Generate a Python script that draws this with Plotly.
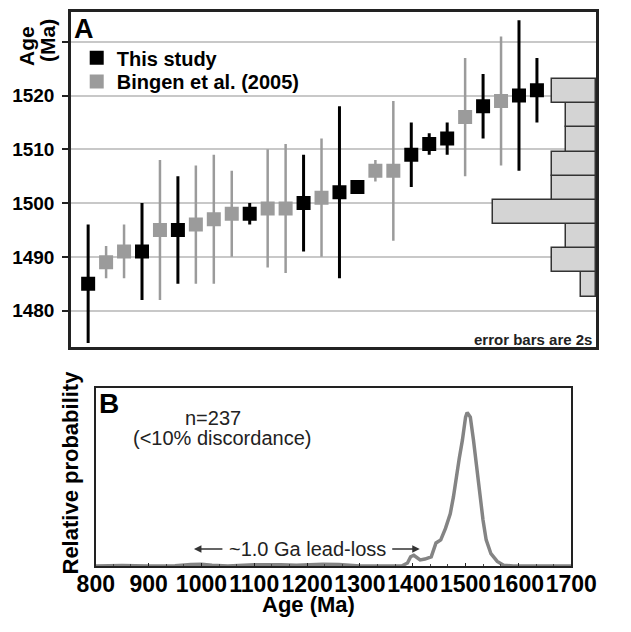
import plotly.graph_objects as go

# ---------------- data ----------------
# Panel A: weighted-mean ages (Ma) with 2s errors, ordered by age
study_idx = [1, 4, 6, 10, 13, 15, 16, 19, 20, 21, 23, 25, 26]
study_age = [1485, 1491, 1495, 1498, 1500, 1502, 1503, 1509, 1511, 1512, 1518, 1520, 1521]
study_err = [11, 9, 10, 2, 9, 16, 0, 6, 2, 3, 6, 14, 6]

bingen_idx = [2, 3, 5, 7, 8, 9, 11, 12, 14, 17, 18, 22, 24]
bingen_age = [1489, 1491, 1495, 1496, 1497, 1498, 1499, 1499, 1501, 1506, 1506, 1516, 1519]
bingen_err = [3, 5, 13, 11, 12, 8, 11, 12, 11, 2, 13, 11, 12]

# Histogram of ages (side bars)
hist_center = [1484.85, 1489.35, 1493.85, 1498.35, 1502.85, 1507.35, 1511.85, 1516.35, 1520.85]
hist_count = [1, 3, 2, 7, 3, 3, 2, 2, 3]
hist_binwidth = 4.5

y_ticks = [1480, 1490, 1500, 1510, 1520, 1530]
y_ticktext = ["1480", "1490", "1500", "1510", "1520", ""]

# Panel B: relative probability curve
pdf_age = [800, 850, 900, 950, 980, 1000, 1020, 1050, 1100, 1120, 1150, 1180, 1200, 1230,
           1260, 1280, 1300, 1350, 1380, 1390, 1396, 1402, 1408, 1414, 1423, 1435, 1444,
           1453, 1462, 1471, 1477, 1482, 1488, 1494, 1500, 1503, 1509, 1515, 1521, 1527,
           1533, 1539, 1548, 1560, 1572, 1590, 1650, 1700]
pdf_prob = [0.0, 0.003, 0.0, 0.002, 0.01, 0.012, 0.005, 0.0, 0.008, 0.01, 0.008, 0.005, 0.01,
            0.012, 0.01, 0.005, 0.0, 0.0, 0.002, 0.02, 0.06, 0.07, 0.055, 0.04, 0.045, 0.06,
            0.15, 0.17, 0.245, 0.34, 0.45, 0.58, 0.70, 0.82, 0.97, 1.0, 0.97, 0.82, 0.645,
            0.47, 0.30, 0.17, 0.08, 0.03, 0.005, 0.0, 0.0, 0.0]
x_ticks_b = [800, 900, 1000, 1100, 1200, 1300, 1400, 1500, 1600, 1700]

# ---------------- layout helpers ----------------
# The page body has an 8 px margin on every side; the figure is sized so the
# page is exactly 631 x 632 (no overflow). Figure pixel = page pixel - 8.
OFF = 8
W, H = 631 - 2 * OFF, 632 - 2 * OFF
ML, MR, MT, MB = 63, 1, 1, 58
PW = W - ML - MR
PH = H - MT - MB


def px(xp):
    """page x pixel -> paper x"""
    return (xp - OFF - ML) / PW


def py(yp):
    """page y pixel -> paper y"""
    return (H - MB - (yp - OFF)) / PH


FONT = "Liberation Sans, Arial, sans-serif"
DARK = "#222222"
GRAY = "#9b9b9b"

fig = go.Figure()

fig.add_trace(go.Bar(
    x=hist_count, y=hist_center, width=hist_binwidth, orientation="h",
    xaxis="x3", yaxis="y", showlegend=False,
    marker=dict(color="#d4d4d4", line=dict(color="#333333", width=1.5)),
))

fig.add_trace(go.Scatter(
    x=study_idx, y=study_age, mode="markers", name="This study",
    xaxis="x", yaxis="y", legend="legend",
    marker=dict(symbol="square", size=14, color="black"),
    error_y=dict(type="data", array=study_err, color="black", thickness=3, width=0),
))

fig.add_trace(go.Scatter(
    x=bingen_idx, y=bingen_age, mode="markers", name="Bingen et al. (2005)",
    xaxis="x", yaxis="y", legend="legend2",
    marker=dict(symbol="square", size=14, color=GRAY),
    error_y=dict(type="data", array=bingen_err, color=GRAY, thickness=2.5, width=0),
))

fig.add_trace(go.Scatter(
    x=pdf_age, y=pdf_prob, mode="lines", showlegend=False,
    xaxis="x2", yaxis="y2",
    line=dict(color="#848484", width=3.5),
))

annotations = [
    dict(text="<b>A</b>", x=px(72), y=py(26), xanchor="left", yanchor="middle",
         font=dict(size=27, color="black")),
    dict(text="<b>B</b>", x=px(98), y=py(403), xanchor="left", yanchor="middle",
         font=dict(size=28, color="black")),
    dict(text="<b>Age</b>", x=px(25), y=py(43), textangle=-90, xanchor="center",
         yanchor="middle", font=dict(size=21, color="black")),
    dict(text="<b>(Ma)</b>", x=px(47), y=py(38), textangle=-90, xanchor="center",
         yanchor="middle", font=dict(size=21, color="black")),
    dict(text="<b>error bars are 2s</b>", x=px(620), y=py(338), xanchor="right",
         yanchor="middle", font=dict(size=15, color=DARK)),
    dict(text="n=237", x=px(220), y=py(417), xanchor="center", yanchor="middle",
         font=dict(size=20, color=DARK)),
    dict(text="(<10% discordance)", x=px(229), y=py(437), xanchor="center",
         yanchor="middle", font=dict(size=20, color=DARK)),
    dict(text="~1.0 Ga lead-loss", x=px(319), y=py(549), xanchor="center",
         yanchor="middle", font=dict(size=20, color=DARK)),
    dict(text="<b>Relative probability</b>", x=px(71), y=py(472), textangle=-90,
         xanchor="center", yanchor="middle", font=dict(size=22, color="black")),
    dict(text="<b>Age (Ma)</b>", x=px(320), y=py(605), xanchor="center",
         yanchor="middle", font=dict(size=22, color="black")),
]
# arrows for the lead-loss label
for head, tail in [(200, 230), (437, 408)]:
    annotations.append(dict(
        text="", x=px(head), y=py(549), ax=tail - head, ay=0, showarrow=True,
        arrowhead=2, arrowsize=1, arrowwidth=1.5, arrowcolor="#333333",
    ))
for a in annotations:
    a.setdefault("showarrow", False)
    a["xref"] = "paper"
    a["yref"] = "paper"

legend_style = dict(xanchor="left", yanchor="middle", bgcolor="rgba(0,0,0,0)",
                    font=dict(size=20, color="black", weight="bold"), itemwidth=30)

fig.update_layout(
    width=W, height=H,
    margin=dict(l=ML, r=MR, t=MT, b=MB, pad=0),
    paper_bgcolor="white", plot_bgcolor="white",
    font=dict(family=FONT, color="black"),
    showlegend=True,
    legend=dict(x=px(77), y=py(55), **legend_style),
    legend2=dict(x=px(77), y=py(79), **legend_style),
    annotations=annotations,
    bargap=0,
    xaxis=dict(domain=[0, 1], range=[0.0446, 29.29], showticklabels=False, ticks="",
               showgrid=False, zeroline=False, showline=True, mirror=True,
               linecolor=DARK, linewidth=2.5, anchor="y"),
    xaxis3=dict(overlaying="x", range=[35.55, 0], visible=False, anchor="y"),
    yaxis=dict(domain=[py(346), 1], range=[1473.2, 1535.55], tickvals=y_ticks,
               ticktext=y_ticktext, ticks="outside", ticklen=6, tickwidth=2,
               tickcolor=DARK, ticklabelstandoff=4,
               tickfont=dict(size=19, color="black", weight="bold"),
               showgrid=True, gridcolor="#c8c8c8", gridwidth=1.5, zeroline=False,
               showline=True, mirror=True, linecolor=DARK, linewidth=2.5, anchor="x"),
    xaxis2=dict(domain=[px(97), px(596)], range=[800, 1700], tickvals=x_ticks_b,
                tickangle=0, ticks="inside", ticklen=3, tickcolor=DARK,
                ticklabelstandoff=-4,
                minor=dict(dtick=100 / 3, ticks="inside", ticklen=2, tickcolor="#444"),
                tickfont=dict(size=23, color="black", weight="bold"),
                showgrid=False, zeroline=False, showline=True, mirror=True,
                linecolor=DARK, linewidth=2, anchor="y2"),
    yaxis2=dict(domain=[0, py(387)], range=[0, 1.16], showticklabels=False, ticks="",
                showgrid=False, zeroline=False, showline=True, mirror=True,
                linecolor=DARK, linewidth=2, anchor="x2"),
)

fig.write_html("out.html")
